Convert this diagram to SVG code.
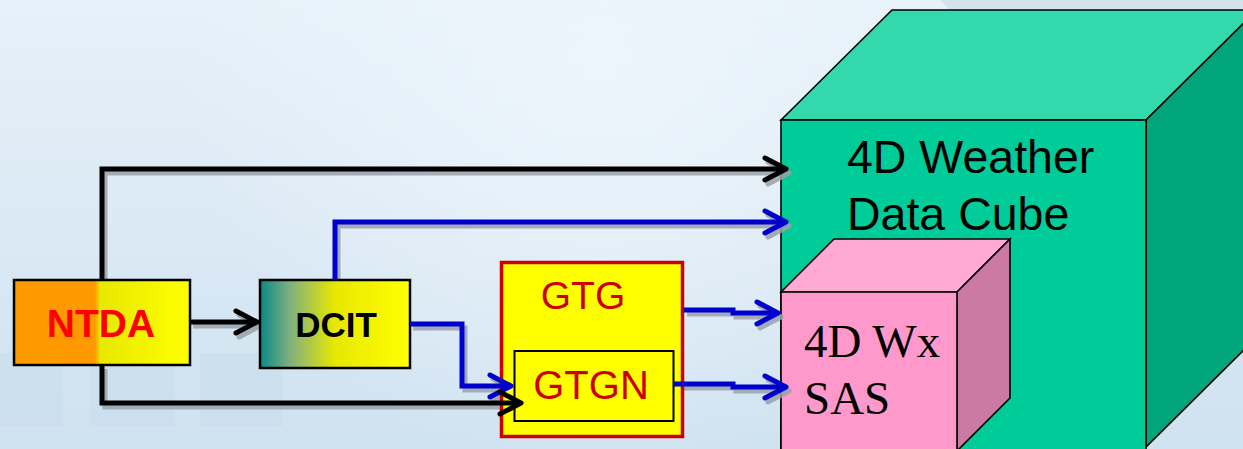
<svg xmlns="http://www.w3.org/2000/svg" width="1243" height="449" viewBox="0 0 1243 449">
<style>
.edge{fill:none;stroke-width:5;stroke-linejoin:miter}
.blk{stroke:#000}
.blu{stroke:#0000CC}
.shd{stroke:#9AA2AA;opacity:0.85}
.cube{stroke:#000;stroke-width:1.6;stroke-linejoin:miter}
.sans{font-family:"Liberation Sans",Arial,sans-serif}
.serif{font-family:"Liberation Serif","Times New Roman",serif}
</style>
<defs>
<linearGradient id="bg" x1="0" y1="0" x2="0" y2="1">
<stop offset="0" stop-color="#E6F1F9"/>
<stop offset="0.45" stop-color="#DCEAF5"/>
<stop offset="1" stop-color="#CFE2F0"/>
</linearGradient>
<radialGradient id="glow" cx="600" cy="60" r="420" gradientUnits="userSpaceOnUse">
<stop offset="0" stop-color="#EEF6FC" stop-opacity="0.9"/>
<stop offset="1" stop-color="#EEF6FC" stop-opacity="0"/>
</radialGradient>
<linearGradient id="gNTDA" x1="14" y1="0" x2="190" y2="0" gradientUnits="userSpaceOnUse">
<stop offset="0" stop-color="#FF9900"/>
<stop offset="0.46" stop-color="#FF9900"/>
<stop offset="0.49" stop-color="#E8E800"/>
<stop offset="1" stop-color="#FFFF00"/>
</linearGradient>
<linearGradient id="gDCIT" x1="260" y1="0" x2="410" y2="0" gradientUnits="userSpaceOnUse">
<stop offset="0" stop-color="#0A8888"/>
<stop offset="0.2" stop-color="#7FB07F"/>
<stop offset="0.5" stop-color="#E8E800"/>
<stop offset="1" stop-color="#FFFF00"/>
</linearGradient>
<marker id="mBlk" viewBox="-26 -14 30 28" markerWidth="30" markerHeight="28" refX="0" refY="0" orient="auto" markerUnits="userSpaceOnUse">
<path d="M-21,-11 L0,0 L-21,11" fill="none" stroke="#000" stroke-width="5" stroke-linecap="round" stroke-linejoin="round"/>
</marker>
<marker id="mBlu" viewBox="-26 -14 30 28" markerWidth="30" markerHeight="28" refX="0" refY="0" orient="auto" markerUnits="userSpaceOnUse">
<path d="M-21,-11 L0,0 L-21,11" fill="none" stroke="#0000CC" stroke-width="5" stroke-linecap="round" stroke-linejoin="round"/>
</marker>
<marker id="mShd" viewBox="-26 -14 30 28" markerWidth="30" markerHeight="28" refX="0" refY="0" orient="auto" markerUnits="userSpaceOnUse">
<path d="M-21,-11 L0,0 L-21,11" fill="none" stroke="#9AA2AA" stroke-width="5" stroke-linecap="round" stroke-linejoin="round"/>
</marker>
</defs>

<g id="background">
<rect x="0" y="0" width="1243" height="449" fill="url(#bg)"/>
<rect x="0" y="0" width="1243" height="449" fill="url(#glow)"/>
<path d="M760,0 L1243,0 L1243,60 C1150,50 1100,40 1060,20 C1030,14 1000,18 975,32 C960,22 950,10 940,0 Z" fill="#D4E2EC"/>
<rect x="0" y="353" width="63" height="73" fill="#C6D9EA" opacity="0.4"/>
<rect x="90" y="353" width="85" height="73" fill="#C6D9EA" opacity="0.4"/>
<rect x="200" y="353" width="83" height="73" fill="#C6D9EA" opacity="0.4"/>
</g>

<g id="cube-4d-weather">
<polygon class="cube" points="781,120 892,10 1257,10 1146,120" fill="#33D9AD"/>
<polygon class="cube" points="1146,120 1257,10 1257,337 1146,447" fill="#00A57A"/>
<rect class="cube" x="781" y="120" width="365" height="340" fill="#00CC99"/>
<text class="sans" x="847" y="173" font-size="46.5" fill="#000">4D Weather</text>
<text class="sans" x="847" y="230" font-size="46.5" fill="#000">Data Cube</text>
</g>

<g id="cube-4d-wx-sas">
<polygon class="cube" points="781,292 834,239 1010,239 957,292" fill="#FFAAD4"/>
<polygon class="cube" points="957,292 1010,239 1010,398 957,451" fill="#CC79A3"/>
<rect class="cube" x="781" y="292" width="176" height="170" fill="#FF99CC"/>
<text class="serif" x="804" y="357" font-size="47" fill="#000">4D Wx</text>
<text class="serif" x="804" y="414" font-size="47" fill="#000">SAS</text>
</g>

<g id="connector-shadows" transform="translate(3,4)">
<path class="edge shd" d="M102,280 V169 H786" marker-end="url(#mShd)"/>
<path class="edge shd" d="M335,280 V222 H786" marker-end="url(#mShd)"/>
<path class="edge shd" d="M190,322 H257" marker-end="url(#mShd)"/>
<path class="edge shd" d="M410,324 H462 V386 H511" marker-end="url(#mShd)"/>
<path class="edge shd" d="M102,365 V403 H521" marker-end="url(#mShd)"/>
<path class="edge shd" d="M684,310 H733 V313 H778" marker-end="url(#mShd)"/>
<path class="edge shd" d="M673,384 H733 V387 H786" marker-end="url(#mShd)"/>
</g>

<g id="ntda">
<rect x="14" y="280" width="176" height="85" fill="url(#gNTDA)" stroke="#000" stroke-width="2.5"/>
<text class="sans" x="101" y="337" font-size="39" font-weight="bold" fill="#FF0000" text-anchor="middle">NTDA</text>
</g>

<g id="dcit">
<rect x="260" y="280" width="150" height="88" fill="url(#gDCIT)" stroke="#000" stroke-width="2.5"/>
<text class="sans" x="336" y="337" font-size="35" font-weight="bold" fill="#000" text-anchor="middle">DCIT</text>
</g>

<g id="gtg">
<rect x="501.5" y="262.5" width="181" height="174" fill="#FFFF00" stroke="#CC0000" stroke-width="3.5"/>
<text class="sans" x="583" y="309" font-size="39" fill="#CC0000" text-anchor="middle">GTG</text>
</g>

<g id="gtgn">
<rect x="514.5" y="351" width="159" height="70" fill="#FFFF00" stroke="#000" stroke-width="2"/>
<text class="sans" x="591" y="399" font-size="40" fill="#CC0000" text-anchor="middle">GTGN</text>
</g>

<g id="connectors">
<path class="edge blk" d="M102,280 V169 H786" marker-end="url(#mBlk)"/>
<path class="edge blu" d="M335,280 V222 H786" marker-end="url(#mBlu)"/>
<path class="edge blk" d="M190,322 H257" marker-end="url(#mBlk)"/>
<path class="edge blu" d="M410,324 H462 V386 H511" marker-end="url(#mBlu)"/>
<path class="edge blk" d="M102,365 V403 H521" marker-end="url(#mBlk)"/>
<path class="edge blu" d="M684,310 H733 V313 H778" marker-end="url(#mBlu)"/>
<path class="edge blu" d="M673,384 H733 V387 H786" marker-end="url(#mBlu)"/>
</g>
</svg>
